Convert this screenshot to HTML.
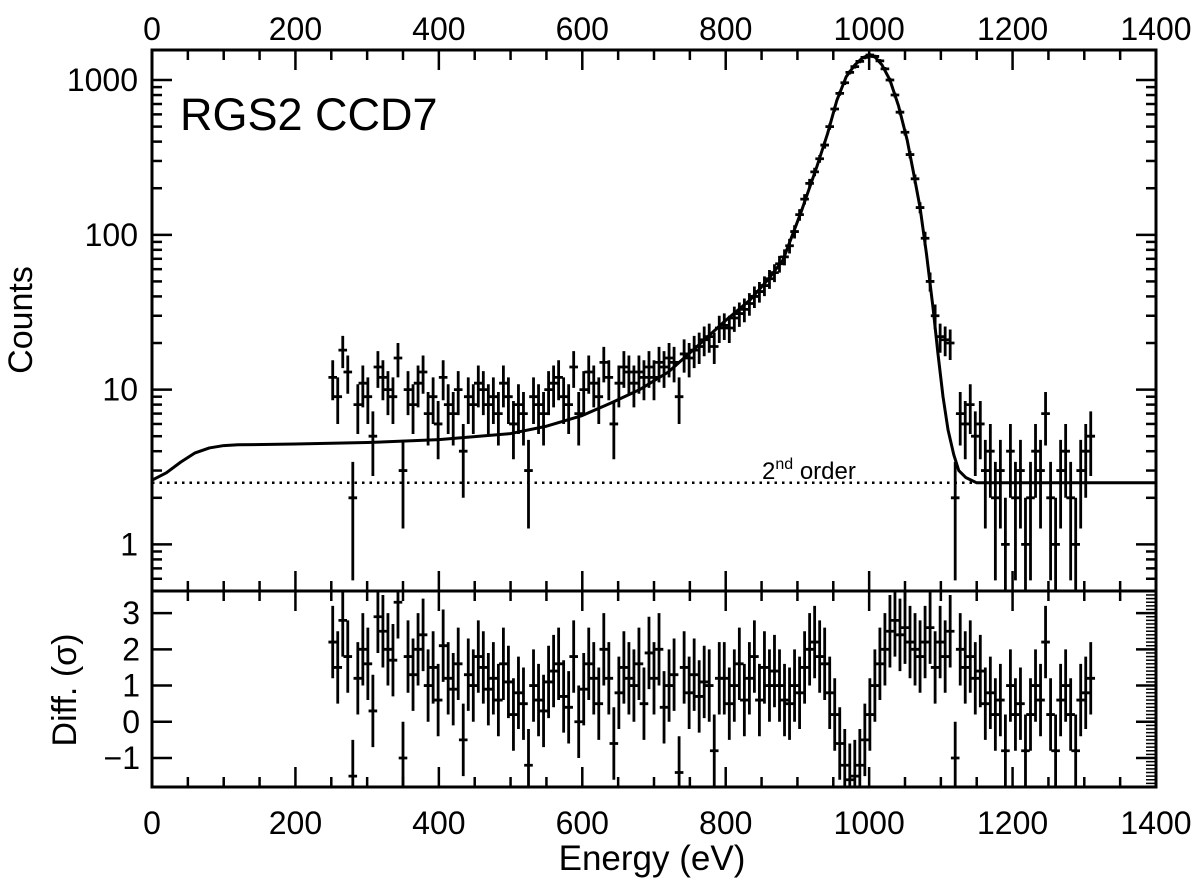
<!DOCTYPE html>
<html><head><meta charset="utf-8"><style>
html,body{margin:0;padding:0;background:#fff;}
svg{display:block;font-family:"Liberation Sans",Arial,sans-serif;}
</style></head><body>
<svg id="chart" width="1200" height="883" viewBox="0 0 1200 883" xmlns="http://www.w3.org/2000/svg">
<g id="axes"></g>
<g id="marks"></g>
<text x="180" y="130" font-size="45">RGS2 CCD7</text>
<text x="762" y="479" font-size="24">2<tspan dy="-10" font-size="16">nd</tspan><tspan dy="10"> order</tspan></text>
<text transform="translate(32,320) rotate(-90)" text-anchor="middle" font-size="34">Counts</text>
<text transform="translate(76,690) rotate(-90)" text-anchor="middle" font-size="34">Diff. (σ)</text>
<text x="652" y="870" text-anchor="middle" font-size="35">Energy (eV)</text>
</svg>
<script>
const counts = [12,9,18,13,2,8,11,9,5,14,12,10,9,16,3,
10,8,11,13,7,9,6,12,8,7,10,4,9,8,11,
10,8,9,7,11,9,6,8,7,3,9,8,7,10,11,
12,9,8,14,7,10,13,11,9,15,12,6,11,14,13,
11,13,12,14,12,15,14,16,15,9,17,16,18,19,21,
22,19,25,26,25,29,31,33,36,40,43,47,52,57,65,
72,85,105,135,170,215,255,310,380,500,650,820,960,1120,1220,
1320,1400,1450,1420,1330,1180,1000,800,620,460,330,230,150,95,
50,30,22,21,20,
2,7,6,8,5,6,3,4,2,3,1,4,2,3,1,2,4,3,7,2,1,3,4,2,1,3,4,5];
const resid = [2.2,1.5,2.8,1.8,-1.5,1.2,2.0,1.6,0.3,2.9,2.5,2.0,1.7,3.3,-1.0,
1.8,1.3,2.0,2.4,1.0,1.5,0.6,2.1,1.2,0.9,1.6,-0.5,1.3,1.0,1.8,
1.5,0.9,1.2,0.6,1.6,1.1,0.2,0.8,0.5,-1.2,1.0,0.6,0.3,1.1,1.4,
1.6,0.7,0.4,1.8,0.0,0.9,1.6,1.2,0.5,2.0,1.2,-0.6,0.8,1.5,1.2,
1.0,1.6,0.5,1.9,1.2,2.0,0.4,1.0,1.3,-1.4,1.5,0.8,1.3,0.7,1.1,
1.0,-0.8,1.2,1.2,0.5,1.0,1.6,0.6,1.2,1.8,0.6,1.5,1.0,1.4,1.0,
0.6,0.5,1.0,0.8,1.5,2.0,2.2,1.8,1.6,0.8,0.2,-0.6,-1.2,-1.6,-1.5,
-1.2,-0.5,0.2,1.0,1.6,2.0,2.5,2.8,2.4,2.6,2.2,2.0,1.8,2.2,
2.6,1.5,2.2,1.8,2.5,
-1.0,2.0,1.5,1.8,1.2,1.4,0.5,0.8,0.2,0.6,-0.8,1.0,0.2,0.5,-0.8,0.2,1.0,0.6,2.2,0.2,-0.8,0.6,1.0,0.2,-0.8,0.6,0.8,1.2];
const energyStart = 252, energyStep = 7;
const energies = counts.map((_, i) => energyStart + energyStep * i);
const modelE = [0,20,40,60,80,100,120,200,300,400,500,550,600,640,680,720,760,800,834,860,880,905,927,942,955,968,980,990,999,1008,1018,1029,1041,1053,1062,1071,1080,1089,1096,1103,1110,1118,1125,1135,1150,1400];
const modelV = [2.6,2.9,3.4,3.9,4.2,4.35,4.4,4.45,4.55,4.75,5.2,5.8,6.8,8.2,10,13,19,28,38,52,69,140,275,450,740,1050,1250,1380,1450,1410,1250,1000,680,410,250,150,75,34,17,9,5.5,3.8,3.0,2.7,2.5,2.5];
const secondOrder = 2.5;
const xTicks = [0,200,400,600,800,1000,1200,1400];
const yTicks = [1,10,100,1000];
const yTickLabels = ["1","10","100","1000"];
const rTicks = [-1,0,1,2,3];
const rTickLabels = ["\u22121","0","1","2","3"];

const L=152,R=1156,T=50,M=591,B=787;
const yMin=Math.log10(0.5), yMax=3.194;
const rMin=-1.8, rMax=3.61;
const X=e=>L+(e/1400)*(R-L);
const Y=v=>M-(Math.log10(v)-yMin)/(yMax-yMin)*(M-T);
const YR=v=>B-(v-rMin)/(rMax-rMin)*(B-M);
const NS="http://www.w3.org/2000/svg";
const axes=document.getElementById('axes'), marks=document.getElementById('marks');
function mk(tag,attrs,parent){const el=document.createElementNS(NS,tag);for(const k in attrs)el.setAttribute(k,attrs[k]);parent.appendChild(el);return el;}
const cl=v=>Math.max(T,Math.min(M,v));
const clr=v=>Math.max(M,Math.min(B,v));

let f=mk('rect',{x:L,y:T,width:R-L,height:M-T,fill:'none',stroke:'#000','stroke-width':3},axes);


f=mk('rect',{x:L,y:M,width:R-L,height:B-M,fill:'none',stroke:'#000','stroke-width':3},axes);



for(let e=0;e<=1400;e+=50){
  const major=e%200===0, len=major?20:10, x=X(e);
  [[T,1],[M,-1],[M,1],[B,-1]].forEach(([y0,d])=>{
    const t=mk('line',{x1:x,x2:x,y1:y0,y2:y0+d*len,stroke:'#000','stroke-width':2.5},axes);
    
    
  });
}
xTicks.forEach(e=>{
  let t=mk('text',{x:X(e),y:40,'text-anchor':'middle','font-size':32},axes);t.textContent=e;
  
  
  t=mk('text',{x:X(e),y:834,'text-anchor':'middle','font-size':32},axes);t.textContent=e;
  
  
});
for(let d=-1;d<=3;d++){for(let m=1;m<=9;m++){
  const v=m*Math.pow(10,d); if(v<0.5||Math.log10(v)>yMax) continue;
  const y=Y(v), len=m===1?20:10;
  [[L,1],[R,-1]].forEach(([x0,s])=>{
    const t=mk('line',{x1:x0,x2:x0+s*len,y1:y,y2:y,stroke:'#000','stroke-width':2.5},axes);
    
    
  });
}}
yTicks.forEach((v,i)=>{
  const t=mk('text',{x:138,y:Y(v)+11,'text-anchor':'end','font-size':32},axes);t.textContent=yTickLabels[i];
  
  
});
rTicks.forEach((v,i)=>{
  const y=YR(v);
  [[L,1],[R,-1]].forEach(([x0,s])=>{
    const t=mk('line',{x1:x0,x2:x0+s*20,y1:y,y2:y,stroke:'#000','stroke-width':2.5},axes);
    
    
  });
  const t=mk('text',{x:140,y:y+11,'text-anchor':'end','font-size':32},axes);t.textContent=rTickLabels[i];
  
  
});
for(let v=-1.8;v<=3.6;v+=0.1){
  const y=YR(v);
  const t=mk('line',{x1:R,x2:R-10,y1:y,y2:y,stroke:'#000','stroke-width':1.5},axes);
  
  
}

let so=mk('line',{x1:L,x2:R,y1:Y(secondOrder),y2:Y(secondOrder),stroke:'#000','stroke-width':2.5,'stroke-dasharray':'2.5 5'},marks);



const hw=6;
energies.forEach((e,i)=>{
  const c=counts[i], s=Math.sqrt(c), x=X(e);
  const lo=c-s>0?Y(c-s):M;
  const g=mk('path',{d:`M${x},${cl(Y(c+s))}V${cl(lo)}M${X(e-hw)},${cl(Y(c))}H${X(e+hw)}`,stroke:'#000','stroke-width':2.8,fill:'none'},marks);
  
  
  const r=resid[i];
  const yr=YR(r);
  let d=`M${x},${clr(YR(r+1))}V${clr(YR(r-1))}`;
  if(yr>=M&&yr<=B) d+=`M${X(e-hw)},${yr}H${X(e+hw)}`;
  const h=mk('path',{d:d,stroke:'#000','stroke-width':2.8,fill:'none'},marks);
  
  
});

const md=modelE.map((e,i)=>(i?'L':'M')+X(e)+','+Y(modelV[i])).join('');
const mp=mk('path',{d:md,stroke:'#000','stroke-width':3,fill:'none','stroke-linejoin':'round'},marks);


</script>
</body></html>
